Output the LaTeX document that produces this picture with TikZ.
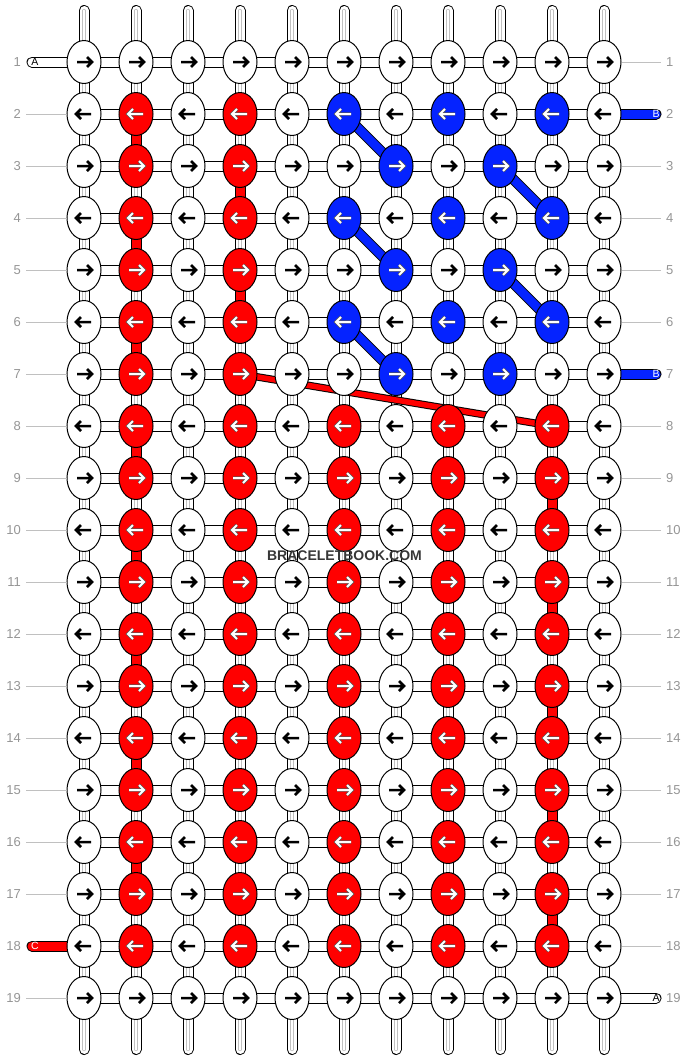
\documentclass[tikz,border=0pt]{standalone}
\usepackage{fontspec}
\setmainfont{Liberation Sans}
\usetikzlibrary{shapes.geometric}
\definecolor{knotred}{RGB}{255,0,0}
\definecolor{knotblue}{RGB}{5,35,255}
\definecolor{rownum}{RGB}{150,150,150}
\definecolor{guidegray}{RGB}{192,192,192}
\definecolor{stamp}{RGB}{55,55,55}

\newcommand\knotcolor[2]{%
  \def\kcol{white}%
  \ifnum#1>1 \ifnum#1<19
    \ifodd#2 \else
      \ifnum#2<5 \def\kcol{knotred}\fi
      \ifnum#1>7 \def\kcol{knotred}\fi
    \fi
    \ifnum#1<8
      \ifodd#1
        \ifodd#2 \ifnum#2>5 \ifnum#2<11 \def\kcol{knotblue}\fi\fi\fi
      \else
        \ifodd#2 \else \ifnum#2>5 \def\kcol{knotblue}\fi\fi
      \fi
    \fi
  \fi\fi}

\begin{document}
\begin{tikzpicture}[x=1pt,y=-1pt,
   knot/.style={ellipse,draw,line width=1pt,minimum width=34pt,minimum height=43pt,inner sep=0pt},
   link/.style={draw=black,line width=1pt,double=white,double distance=9pt},
   warp/.style={link,postaction={draw=guidegray,line width=0.6pt,double=white,double distance=2pt}},
   turn/.style={link,double=knotred},
   band/.style={draw=black,line width=1pt,double=#1},
   tag/.style={font=\fontsize{10.5}{10.5}\selectfont,inner sep=0pt},
   rownr/.style={text=rownum,font=\fontsize{13}{13}\selectfont,inner sep=0pt},
   guide/.style={draw=guidegray,line width=1pt,shorten <=5pt},
   arr-white/.style={black,line width=2.5pt,line join=miter},
   arr-knotred/.style={white,line width=2pt,line join=miter,
      preaction={draw=black!65,line width=3.4pt}},
   arr-knotblue/.style={arr-knotred}]
   \useasboundingbox[fill=white] (0,0) rectangle (688,1060);

   \foreach \r in {1,...,19}
     \foreach \c in {1,...,11}
       \coordinate (p-\r-\c) at ({32+52*\c},{10+52*\r});

   \foreach \c in {1,...,11} {
     \coordinate (top-\c) at ({32+52*\c},10.5);
     \coordinate (bot-\c) at ({32+52*\c},1049.5);
     \draw[warp,line cap=round] (top-\c) -- (p-1-\c);
     \draw[warp,line cap=round] (p-19-\c) -- (bot-\c);
   }
   \foreach \r [count=\rn from 2] in {1,...,18}
     \foreach \c in {1,...,11}
       \draw[warp] (p-\r-\c) -- (p-\rn-\c);
   \foreach \r in {1,...,19}
     \foreach \c [count=\cn from 2] in {1,...,10}
       \draw[link] (p-\r-\c) -- (p-\r-\cn);
   \foreach \r/\c/\rn in {2/2/3,4/2/5,6/2/7,8/2/9,10/2/11,12/2/13,14/2/15,16/2/17,
       3/4/4,5/4/6,9/10/10,11/10/12,13/10/14,15/10/16,17/10/18}
     \draw[turn] (p-\r-\c) -- (p-\rn-\c);

   \foreach \a/\b/\e/\f in {2/6/3/7,3/9/4/10,4/6/5/7,5/9/6/10,6/6/7/7}
     \draw[band=knotblue,double distance=8.5pt] (p-\a-\b) -- (p-\e-\f);
   \draw[band=knotred,double distance=5.5pt] (p-7-4) -- (p-8-10);

   \coordinate (endA-in) at (32,62);
   \coordinate (endB-hi) at (656,114);
   \coordinate (endB-lo) at (656,374);
   \coordinate (endC) at (32,946);
   \coordinate (endA-out) at (656,998);
   \draw[link,line cap=round] (p-1-1) -- (endA-in) node[tag,xshift=3pt] {A};
   \draw[link,double=knotblue,line cap=round] (p-2-11) -- (endB-hi) node[tag,text=white] {B};
   \draw[link,double=knotblue,line cap=round] (p-7-11) -- (endB-lo) node[tag,text=white] {B};
   \draw[link,double=knotred,line cap=round] (p-18-1) -- (endC) node[tag,text=white,xshift=3pt] {C};
   \draw[link,line cap=round] (p-19-11) -- (endA-out) node[tag] {A};

   \foreach \r in {1,...,19}
     \foreach \c in {1,...,11} {
       \knotcolor{\r}{\c}
       \ifodd\r \def\xa{-7}\def\xb{8}\def\xh{3}\else \def\xa{7}\def\xb{-8}\def\xh{-3}\fi
       \node[knot,fill=\kcol] (k-\r-\c) at (p-\r-\c) {};
       \draw[arr-\kcol] ([xshift=\xa pt]k-\r-\c.center) -- ([xshift=\xb pt]k-\r-\c.center)
         ([xshift=\xh pt,yshift=5pt]k-\r-\c.center) -- ([xshift=\xb pt]k-\r-\c.center)
         -- ([xshift=\xh pt,yshift=-5pt]k-\r-\c.center);
     }

   \foreach \r in {1,...,19} {
     \node[rownr,anchor=east] (ln-\r) at (21,{10+52*\r}) {\r};
     \node[rownr,anchor=west] (rn-\r) at (666,{10+52*\r}) {\r};
   }
   \foreach \r in {2,...,17,19}
     \draw[guide] (ln-\r) -- (k-\r-1);
   \foreach \r in {1,3,4,5,6,8,9,...,18}
     \draw[guide] (rn-\r) -- (k-\r-11);

   \node[font=\fontsize{14}{14}\selectfont\bfseries,text=stamp] (site) at (344.5,556) {BRACELETBOOK.COM};
\end{tikzpicture}
\end{document}
